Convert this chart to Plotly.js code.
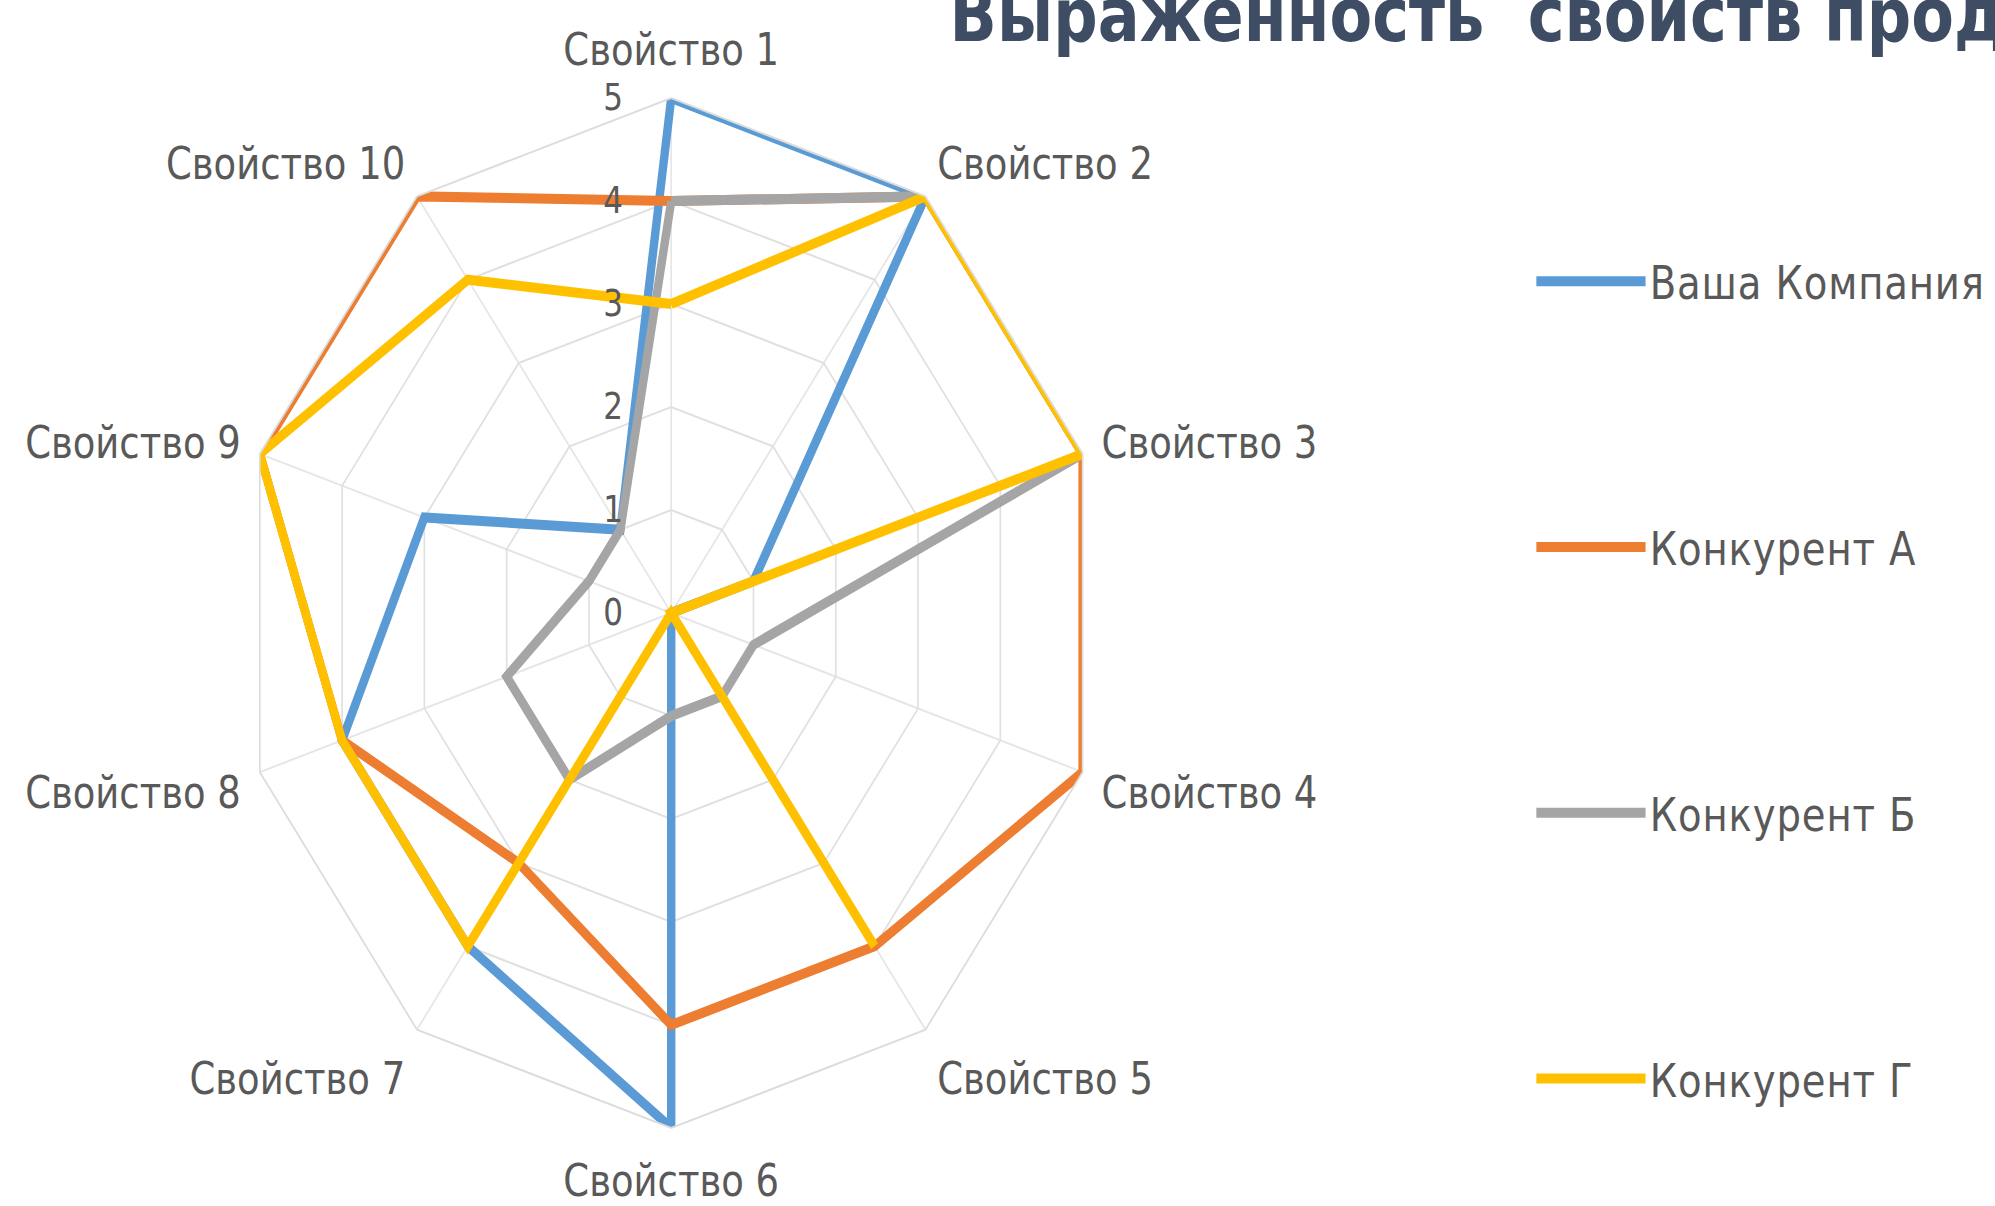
<!DOCTYPE html>
<html>
<head>
<meta charset="utf-8">
<script src="https://cdn.plot.ly/plotly-3.0.1.min.js"></script>
<style>
  html, body { margin: 0; padding: 0; background: #ffffff; overflow: hidden; width: 1995px; height: 1206px; }
  #chart { width: 2375px; height: 1206px; transform: scaleX(0.84); transform-origin: 0 0; }
  .legendtext { letter-spacing: 1px; }
</style>
</head>
<body>
<div id="chart"></div>
<script>
// ---- data ----
const properties = ["Свойство 1", "Свойство 2", "Свойство 3", "Свойство 4", "Свойство 5",
                    "Свойство 6", "Свойство 7", "Свойство 8", "Свойство 9", "Свойство 10"];
const seriesNames = ["Ваша Компания", "Конкурент А", "Конкурент Б", "Конкурент Г"];
const yourCompany  = [5, 5, 1, 0, 0, 5, 4, 4, 3, 1];
const competitorA  = [4, 5, 5, 5, 4, 4, 3, 4, 5, 5];
const competitorB  = [4, 5, 5, 1, 1, 1, 2, 2, 1, 1];
const competitorG  = [3, 5, 5, 0, 4, 0, 4, 4, 5, 4];
const radialTicks  = [0, 1, 2, 3, 4, 5];
const chartTitle   = "Выраженность\u00a0 свойств продукта";

const colors = ["#5B9BD5", "#ED7D31", "#A5A5A5", "#FFC000"];
const allSeries = [yourCompany, competitorA, competitorB, competitorG];

const traces = allSeries.map((vals, i) => ({
  type: "scatterpolar",
  mode: "lines",
  name: seriesNames[i],
  legendgroup: "g" + i,
  r: vals.concat([vals[0]]),
  theta: properties.concat([properties[0]]),
  line: { color: colors[i], width: 10 },
  hoverinfo: "skip"
}));

const layout = {
  width: 2375,
  height: 1206,
  margin: { l: 0, r: 0, t: 0, b: 0 },
  paper_bgcolor: "#ffffff",
  showlegend: true,
  title: {
    text: chartTitle,
    font: { family: "DejaVu Sans, sans-serif", size: 74, weight: "bold", color: "#3E4D63" },
    xref: "container", yref: "container",
    x: 0.476, xanchor: "left",
    y: 0.9875, yanchor: "middle",
    pad: { t: 0, b: 0, l: 0, r: 0 }
  },
  legend: {
    x: 0.768, xanchor: "left",
    y: 0.797, yanchor: "top",
    font: { family: "DejaVu Sans, sans-serif", size: 46, color: "#595959" },
    tracegroupgap: 203,
    itemwidth: 130,
    bgcolor: "rgba(0,0,0,0)"
  },
  polar: {
    domain: { x: [0.1196, 0.5533], y: [0.0647, 0.9187] },
    bgcolor: "#ffffff",
    gridshape: "linear",
    angularaxis: {
      direction: "clockwise",
      rotation: 90,
      tickfont: { family: "DejaVu Sans, sans-serif", size: 44, color: "#595959" },
      showline: true,
      linecolor: "#DCDCDC",
      linewidth: 2,
      showgrid: true,
      gridcolor: "#E6E6E6",
      gridwidth: 2,
      ticks: "outside",
      ticklen: 14,
      tickcolor: "rgba(0,0,0,0)"
    },
    radialaxis: {
      range: [0, 5],
      tickvals: radialTicks,
      ticktext: radialTicks.map(String),
      angle: 90,
      tickangle: 90,
      side: "counterclockwise",
      showline: false,
      ticks: "outside",
      ticklen: 44,
      tickcolor: "rgba(0,0,0,0)",
      showgrid: true,
      gridcolor: "#E0E0E0",
      gridwidth: 2,
      tickfont: { family: "DejaVu Sans, sans-serif", size: 37, color: "#595959" }
    }
  }
};

Plotly.newPlot("chart", traces, layout, { staticPlot: true, displayModeBar: false });
</script>
</body>
</html>
